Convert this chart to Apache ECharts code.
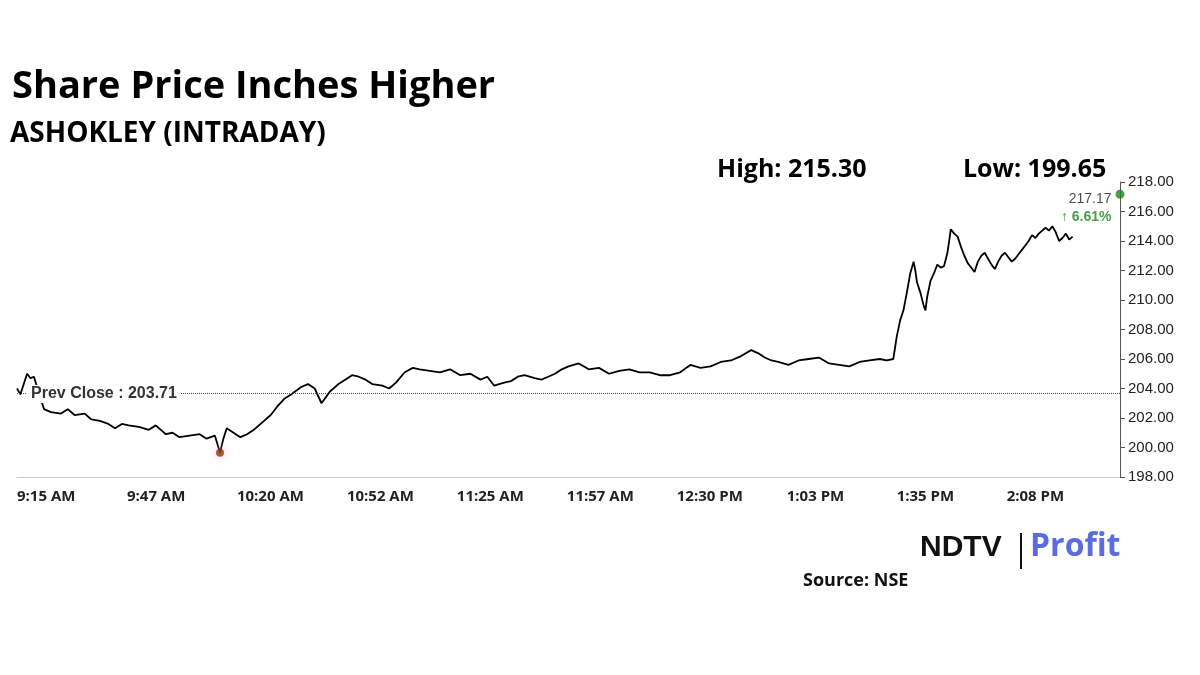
<!DOCTYPE html>
<html><head><meta charset="utf-8">
<script src="https://cdn.jsdelivr.net/npm/echarts@6/dist/echarts.min.js"></script>
<style>html,body{margin:0;padding:0;background:#fff}#c{width:1200px;height:675px}</style>
</head><body><div id="c"></div>
<script>
// minutes after 9:15 AM
const times = [0,1,2,3,4,5,8,10,13,15,17,20,22,24.5,27,29,31,33,36,39,41,44,46,48,51,54,56,58.5,60,61,62,64,66,68,70,72,75,77,79,81,84,86,88,90,92.5,95,97,99,101,103,105,108,110,112,114.6,117,119,122,125,128,131,134,137,139,141,144,146,148,150,153,155,157,159,161,163,166,169,172,175,178,181,184,187,190,193,196,199,202,205,208,211,214,217,219,221,223,225,228,231,234,237,240,243,246,249,252,255,257,259,260,261,262,263,264,265,265.5,266,267,268,268.5,269,270,271,272,273,274,275,276,277,278,279,280,281,282,283,284,285,286,287,288,289,290,291,292,293,294,295,296,297,298,299,300,301,302,303,304,305,306,307,308,309,310,311,312,313,314];
const prices = [204.0,203.6,204.3,205.0,204.7,204.8,202.6,202.4,202.3,202.6,202.2,202.3,201.9,201.8,201.6,201.3,201.6,201.5,201.4,201.2,201.5,200.9,201.0,200.7,200.8,200.9,200.6,200.8,199.65,200.6,201.3,201.0,200.7,200.9,201.2,201.6,202.2,202.8,203.3,203.6,204.1,204.3,204.0,203.0,203.8,204.3,204.6,204.9,204.8,204.6,204.3,204.2,204.0,204.4,205.1,205.4,205.3,205.2,205.1,205.3,204.9,205.0,204.6,204.8,204.2,204.4,204.5,204.8,204.9,204.7,204.6,204.8,205.0,205.3,205.5,205.7,205.3,205.4,205.0,205.2,205.3,205.1,205.1,204.9,204.9,205.1,205.6,205.4,205.5,205.8,205.9,206.2,206.6,206.4,206.1,205.9,205.8,205.6,205.9,206.0,206.1,205.7,205.6,205.5,205.8,205.9,206.0,205.9,206.0,207.5,208.6,209.3,210.5,211.8,212.6,212.0,211.2,210.5,209.6,209.3,210.2,211.3,211.8,212.4,212.2,212.3,213.2,214.8,214.5,214.3,213.6,213.0,212.5,212.2,211.9,212.6,213.0,213.2,212.8,212.4,212.1,212.6,213.0,213.2,212.9,212.6,212.8,213.1,213.4,213.7,214.0,214.4,214.2,214.5,214.7,214.9,214.7,215.0,214.6,214.0,214.2,214.5,214.1,214.3];
const axisTicks = [0,32.5,65,97.5,130,162.5,195,227.5,260,292.5];
const axisLabels = ['9:15 AM','9:47 AM','10:20 AM','10:52 AM','11:25 AM','11:57 AM','12:30 PM','1:03 PM','1:35 PM','2:08 PM'];
const prevClose = 203.71, lowVal = 199.65, lowTime = 60, lastPrice = 217.17, lastTime = 326;

const F = '"Open Sans", sans-serif';
const chart = echarts.init(document.getElementById('c'));
chart.setOption({
  animation:false,
  grid:{left:17,right:80,top:182,bottom:198},
  xAxis:{type:'value',min:0,max:326,interval:32.5,
    axisLine:{show:true,onZero:false,lineStyle:{color:'#ccc'}},axisTick:{show:false},splitLine:{show:false},
    axisLabel:{align:'left',margin:12,color:'#222',fontFamily:F,fontWeight:'bold',fontSize:15,
      formatter:v=>{const i=axisTicks.findIndex(t=>Math.abs(t-v)<0.01);return i>=0?axisLabels[i]:'';}}},
  yAxis:{type:'value',position:'right',min:198,max:218,interval:2,
    axisLine:{show:true,onZero:false,lineStyle:{color:'#555'}},axisTick:{show:true,length:5,lineStyle:{color:'#555'}},
    splitLine:{show:false},
    axisLabel:{color:'#222',fontFamily:'"Liberation Sans", sans-serif',fontSize:15,margin:8,formatter:v=>v.toFixed(2)}},
  series:[
    {type:'line',data:times.map((t,i)=>[t,prices[i]]),showSymbol:false,z:3,
      lineStyle:{color:'#000',width:1.8},
      markLine:{silent:true,symbol:'none',data:[{yAxis:prevClose}],
        lineStyle:{color:'#b02a1a',type:'dotted',width:1},label:{show:false}}},
    {type:'scatter',data:[[lowTime,lowVal]],symbolSize:8,z:4,
      itemStyle:{color:'#8b3a10',shadowBlur:8,shadowColor:'#f4a0e0'}},
    {type:'scatter',data:[[lastTime,lastPrice]],symbolSize:9,z:4,itemStyle:{color:'#1a8a1a'},
      label:{show:true,position:'left',distance:0,offset:[-4,14],align:'right',lineHeight:18,
        formatter:'{a|217.17}\n{b|↑ 6.61%}',
        rich:{a:{color:'#222',fontSize:14,fontFamily:'"Liberation Sans", sans-serif',align:'right'},b:{color:'#1a8a1a',fontSize:14,fontWeight:'bold',fontFamily:'"Liberation Sans", sans-serif',align:'right'}}}}
  ],
  graphic:[
    {type:'text',left:12,top:68,style:{text:'Share Price Inches Higher',font:'bold 38px '+F,fill:'#000'}},
    {type:'text',left:10,top:120,style:{text:'ASHOKLEY (INTRADAY)',font:'bold 28px '+F,fill:'#000'}},
    {type:'text',left:717,top:157,style:{text:'High: 215.30',font:'bold 25px '+F,fill:'#000'}},
    {type:'text',left:963,top:157,style:{text:'Low: 199.65',font:'bold 25px '+F,fill:'#000'}},
    {type:'text',left:27,top:385,z:100,style:{text:'Prev Close : 203.71',font:'bold 16px "Liberation Sans", sans-serif',fill:'#333',backgroundColor:'#fff',padding:[1,4]}},
    {type:'text',left:920,top:533,style:{text:'NDTV',font:'bold 30px "Liberation Sans", sans-serif',fill:'#111'}},
    {type:'rect',shape:{x:1020,y:533,width:2,height:36},style:{fill:'#111'}},
    {type:'text',left:1030,top:531,style:{text:'Profit',font:'bold 32px '+F,fill:'#5b6be0'}},
    {type:'text',left:803,top:572,style:{text:'Source: NSE',font:'bold 18px '+F,fill:'#111'}}
  ]
});
</script></body></html>
